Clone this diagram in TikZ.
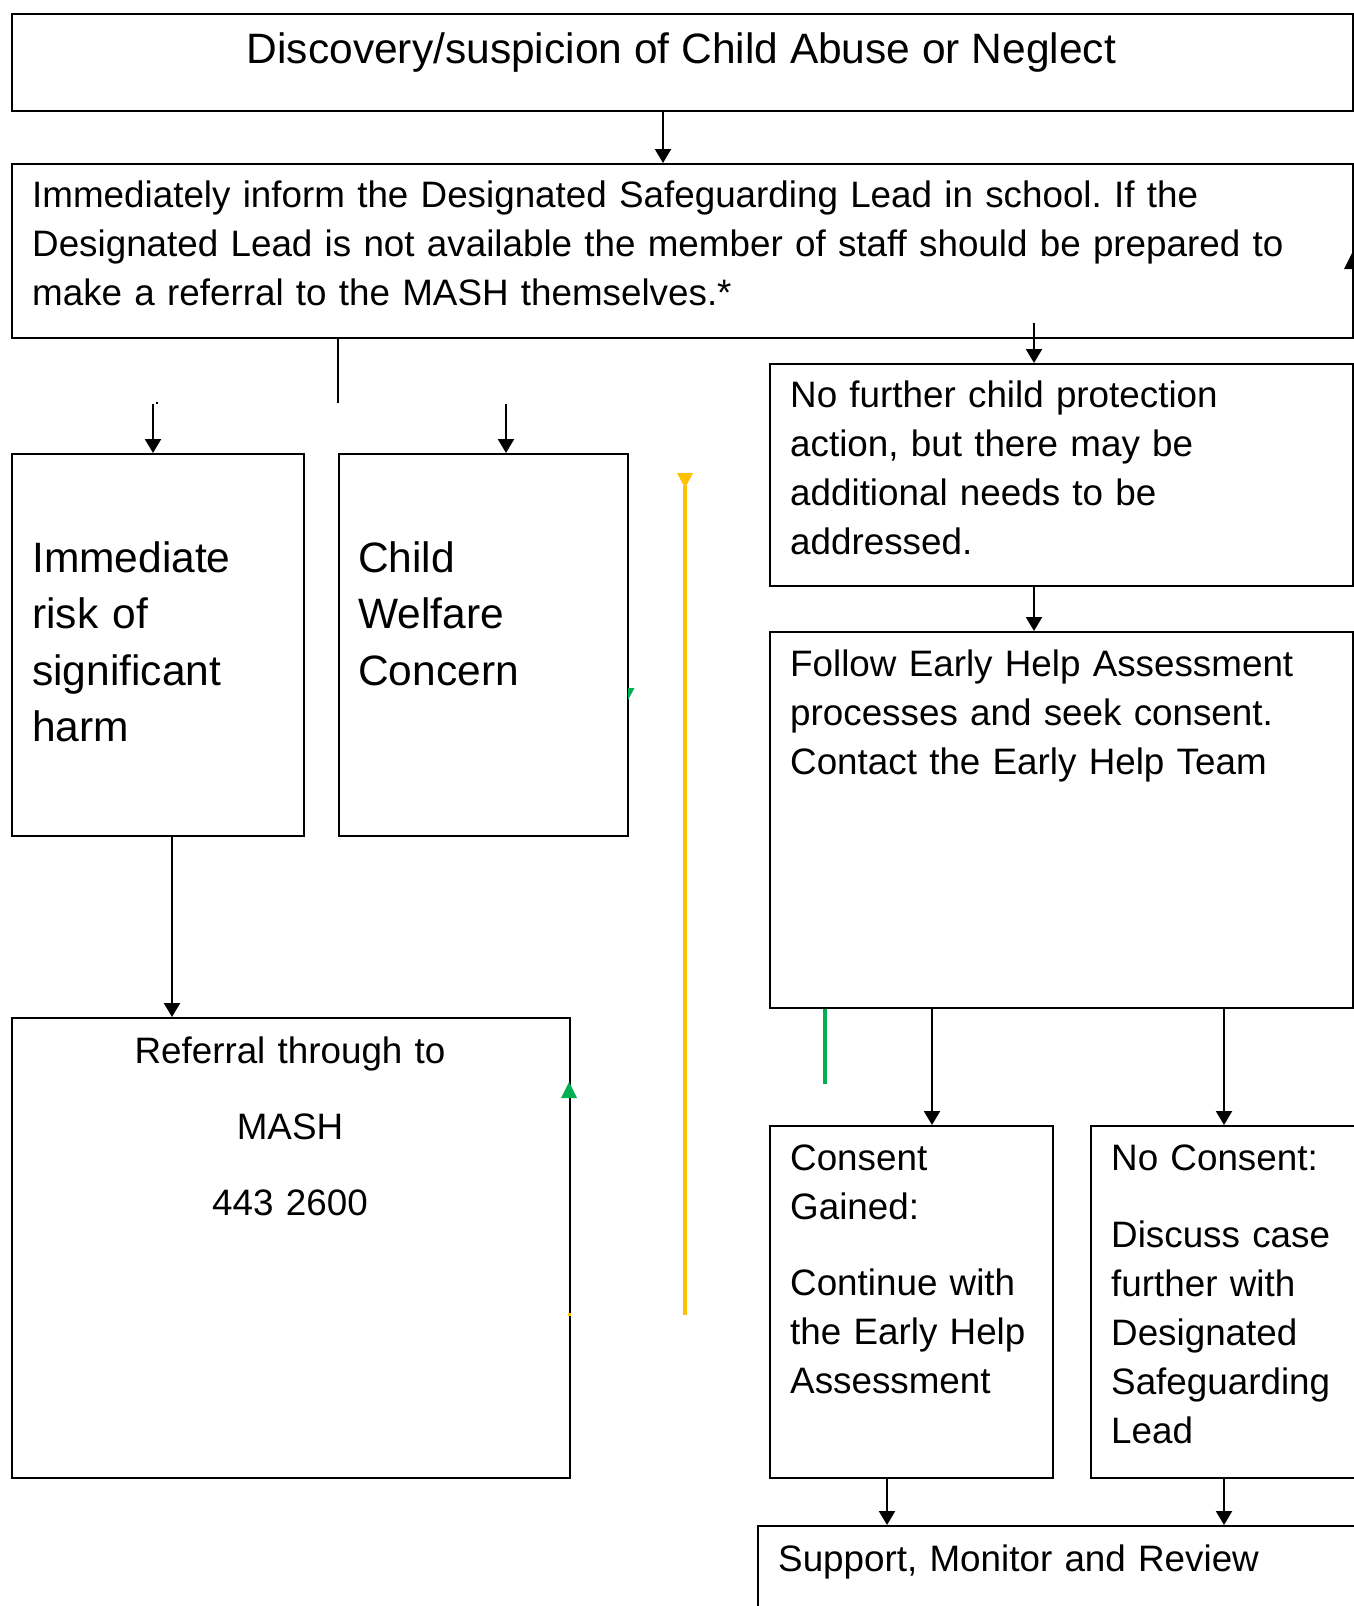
\documentclass[tikz,border=0pt]{standalone}
\usepackage{fontspec}
\setmainfont{Liberation Sans}
\usetikzlibrary{arrows.meta}
\definecolor{ylw}{HTML}{FFC000}
\definecolor{grn}{HTML}{00B050}
\frenchspacing
\begin{document}
\begin{tikzpicture}[x=1pt,y=-1pt,
  box/.style={draw,line width=2.4pt,anchor=north west,inner sep=0pt,rectangle},
  txt/.style={anchor=base west,inner sep=0pt,align=left,text width=#1,font=\fontsize{36.8}{49}\selectfont},
  bigtxt/.style={anchor=base west,inner sep=0pt,align=left,text width=#1,font=\fontsize{42.5}{56.5}\selectfont},
  arr/.style={line width=2.2pt,-{Triangle[width=16pt,length=14pt]}},
  ln/.style={line width=2.2pt}]
\useasboundingbox (0,0) rectangle (1354,1606);
\clip (0,0) rectangle (1354,1606);
% boxes
\node[box,minimum width=1341pt,minimum height=97pt] (title) at (11,13) {};
\node[box,minimum width=1341pt,minimum height=174pt] (inform) at (11,163) {};
\node[box,minimum width=292pt,minimum height=382pt] (risk) at (11,453) {};
\node[box,minimum width=289pt,minimum height=382pt] (welfare) at (338,453) {};
\node[box,minimum width=583pt,minimum height=222pt] (nofurther) at (769,363) {};
\node[box,minimum width=583pt,minimum height=376pt] (follow) at (769,631) {};
\node[box,minimum width=558pt,minimum height=460pt] (mash) at (11,1017) {};
\node[box,minimum width=283pt,minimum height=352pt] (consent) at (769,1125) {};
\node[box,minimum width=290pt,minimum height=352pt] (noconsent) at (1090,1125) {};
\node[box,minimum width=620pt,minimum height=120pt] (support) at (757,1525) {};
% texts
\node[anchor=base,inner sep=0pt,font=\fontsize{42.5}{56.5}\selectfont] (titleT) at (681.5,63) {Discovery/suspicion of Child Abuse or Neglect};
\node[txt=1300pt] (informT) at (32,207) {Immediately inform the Designated Safeguarding Lead in school. If the\\Designated Lead is not available the member of staff should be prepared to\\make a referral to the MASH themselves.*};
\node[bigtxt=260pt] (riskT) at (32,572) {Immediate\\risk of\\significant\\harm};
\node[bigtxt=260pt] (welfareT) at (358,572) {Child\\Welfare\\Concern};
\node[txt=550pt] (nofurtherT) at (790,407) {No further child protection\\action, but there may be\\additional needs to be\\addressed.};
\node[txt=560pt] (followT) at (790,676) {Follow Early Help Assessment\\processes and seek consent.\\Contact the Early Help Team};
\node[anchor=base,inner sep=0pt,align=center,text width=540pt,font=\fontsize{36.8}{49}\selectfont] (mashT) at (290,1063) {Referral through to\\[27pt]MASH\\[27pt]443 2600};
\node[txt=270pt] (consentT) at (790,1170) {Consent\\Gained:\\[27pt]Continue with\\the Early Help\\Assessment};
\node[txt=260pt] (noconsentT) at (1111,1170) {No Consent:\\[28pt]Discuss case\\further with\\Designated\\Safeguarding\\Lead};
\node[txt=580pt] (supportT) at (778,1571) {Support, Monitor and Review};
% helper coordinates
\coordinate (c663) at (663,0);
\coordinate (c153) at (153,0);
\coordinate (c506) at (506,0);
\coordinate (c338) at (338,0);
\coordinate (c1034) at (1034,0);
\coordinate (c172) at (172,0);
\coordinate (c932) at (932,0);
\coordinate (c1224) at (1224,0);
\coordinate (c887) at (887,0);
\coordinate (c825) at (825,0);
\coordinate (branchEnd) at (338,403);
\coordinate (leftStart) at (153,404);
\coordinate (midStart) at (506,404);
\coordinate (rightStart) at (1034,323);
\coordinate (greenEnd) at (825,1084);
\coordinate (ylwTop) at (685,486);
\coordinate (ylwBot) at (685,1315);
% connectors
\draw[arr] (title.south -| c663) -- (inform.north -| c663);
\draw[ln] (inform.south -| c338) -- (branchEnd);
\draw[arr] (leftStart) -- (risk.north -| c153);
\draw[arr] (midStart) -- (welfare.north -| c506);
\draw[arr] (rightStart) -- (nofurther.north -| c1034);
\draw[arr] (nofurther.south -| c1034) -- (follow.north -| c1034);
\draw[arr] (risk.south -| c172) -- (mash.north -| c172);
\draw[arr] (follow.south -| c932) -- (consent.north -| c932);
\draw[arr] (follow.south -| c1224) -- (noconsent.north -| c1224);
\draw[arr] (consent.south -| c887) -- (support.north -| c887);
\draw[arr] (noconsent.south -| c1224) -- (support.north -| c1224);
\draw[line width=3.2pt,grn] (follow.south -| c825) -- (greenEnd);
\draw[line width=3.2pt,ylw] (ylwTop) -- (ylwBot);
% stray arrowheads / fragments
\fill[ylw] (677,473) -- (693,473) -- (685,488) -- cycle;
\fill[grn] (561,1098) -- (577,1098) -- (569,1082) -- cycle;
\fill[grn] (628,688) -- (634.5,688) -- (628,700) -- cycle;
\fill[black] (1344,269) -- (1360,269) -- (1352,253) -- cycle;
\fill[ylw] (567.5,1312.5) rectangle (570.5,1315.5);
\fill[black] (156,401.5) rectangle (158,404);
\end{tikzpicture}
\end{document}
